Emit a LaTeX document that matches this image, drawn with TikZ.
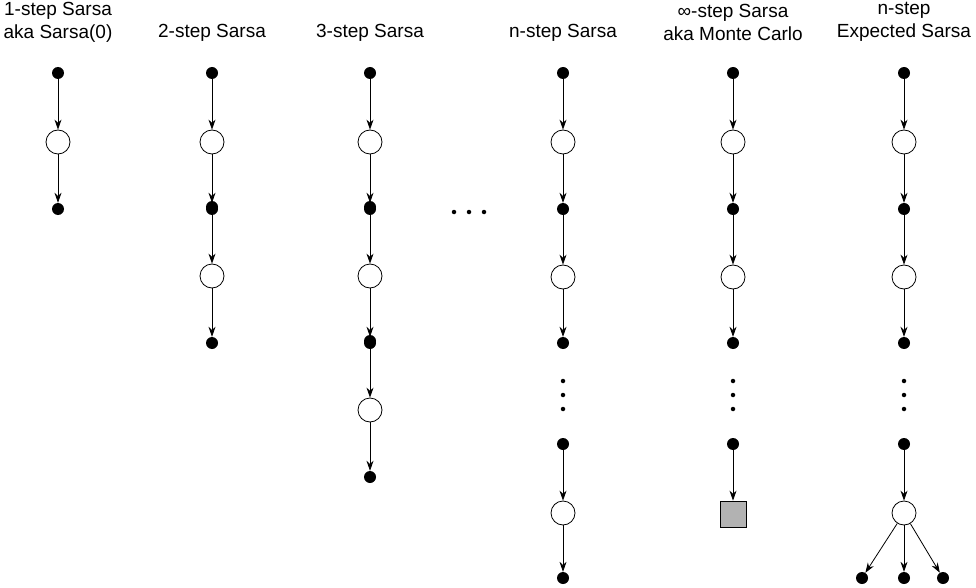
\documentclass[tikz,border=0pt]{standalone}
\usepackage{fontspec}
\setmainfont{Liberation Sans}
\usetikzlibrary{arrows.meta}
\tikzset{
  state/.style={circle, fill=black, inner sep=0pt, minimum size=12pt},
  action/.style={circle, draw, thick, fill=white, inner sep=0pt, minimum size=24pt},
  term/.style={rectangle, draw, thick, fill=gray!60, inner sep=0pt, minimum size=26pt},
  edge/.style={-{Stealth[length=10pt,width=7pt]}, thick},
  title/.style={align=center, font=\fontsize{19}{23}\selectfont},
  vdots/.style={circle, fill=black, inner sep=0pt, minimum size=4.5pt}
}
\begin{document}
\begin{tikzpicture}[x=1pt,y=-1pt]
    \useasboundingbox (0,0) rectangle (976,588);
    % Titles
    \node[title] (t1) at (58,22) {1-step Sarsa\\aka Sarsa(0)};
    \node[title] (t2) at (212,33) {2-step Sarsa};
    \node[title] (t3) at (370,33) {3-step Sarsa};
    \node[title] (tn) at (563,33) {n-step Sarsa};
    \node[title] (ti) at (733,22) {∞-step Sarsa\\aka Monte Carlo};
    \node[title] (te) at (904,22) {n-step\\Expected Sarsa};

    % 1-step, 2-step, 3-step chains
    \foreach \c/\x/\n in {a/58/1, b/212/2, c/370/3} {
        \foreach \k in {1,...,\n} {
            \pgfmathsetmacro\ys{73+(\k-1)*134}
            \pgfmathsetmacro\ya{\ys+69}
            \pgfmathsetmacro\yn{\ys+136}
            \node[state] (\c s\k) at (\x,\ys) {};
            \node[action] (\c a\k) at (\x,\ya) {};
            \node[state] (\c n\k) at (\x,\yn) {};
            \draw[edge] (\c s\k) -- (\c a\k);
            \draw[edge] (\c a\k) -- (\c n\k);
        }
    }

    % Ellipsis between columns
    \foreach \x in {454,469,484} \node[vdots] at (\x,212) {};

    % n-step, infinity-step and expected columns
    \foreach \c/\x in {n/563, i/733, e/904} {
        \node[state] (\c s1) at (\x,73) {};
        \node[action] (\c a1) at (\x,142) {};
        \node[state] (\c s2) at (\x,209) {};
        \node[action] (\c a2) at (\x,277) {};
        \node[state] (\c s3) at (\x,343) {};
        \node[state] (\c s4) at (\x,444) {};
        \draw[edge] (\c s1) -- (\c a1);
        \draw[edge] (\c a1) -- (\c s2);
        \draw[edge] (\c s2) -- (\c a2);
        \draw[edge] (\c a2) -- (\c s3);
        \foreach \y in {381,395,409} \node[vdots] at (\x,\y) {};
    }
    % n-step ending
    \node[action] (na3) at (563,513) {};
    \node[state] (ns5) at (563,578) {};
    \draw[edge] (ns4) -- (na3);
    \draw[edge] (na3) -- (ns5);
    % Monte Carlo terminal
    \node[term] (iend) at (733,514) {};
    \draw[edge] (is4) -- (iend);
    % Expected Sarsa ending
    \node[action] (ea3) at (904,513) {};
    \draw[edge] (es4) -- (ea3);
    \foreach \k/\x in {1/862, 2/904, 3/943} {
        \node[state] (ef\k) at (\x,578) {};
        \draw[edge] (ea3) -- (ef\k);
    }
\end{tikzpicture}
\end{document}
